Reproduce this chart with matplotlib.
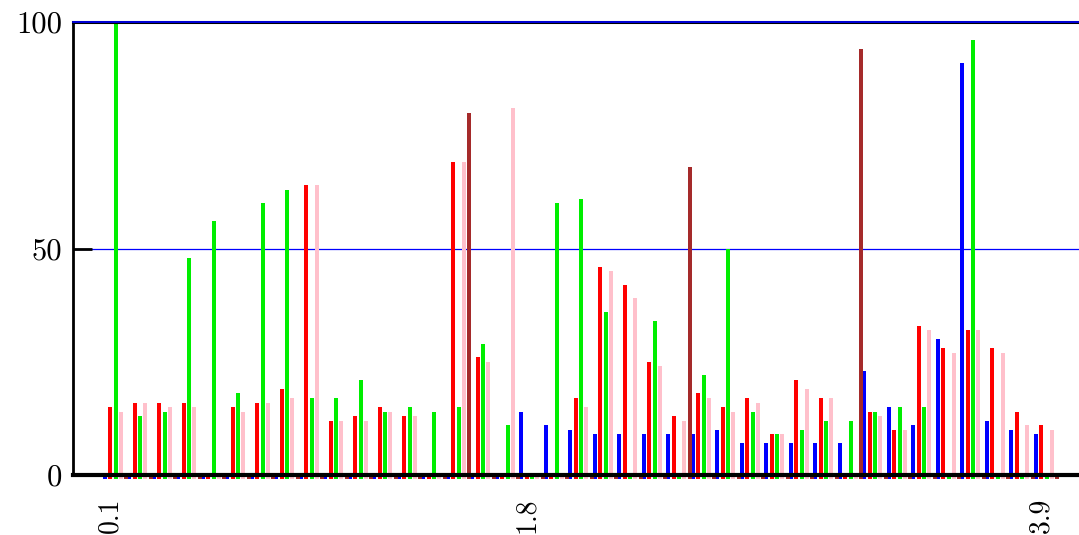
import numpy as np
import matplotlib
matplotlib.use("Agg")
import matplotlib.pyplot as plt

# x categories (0.1 ... 3.9)
x_vals = np.round(np.arange(1, 40) * 0.1, 1)
tick_labels = ["0.1", "1.8", "3.9"]

blue = [0, 0, 0, 0, 0, 0, 0, 0, 0, 0, 0, 0, 0, 0, 0, 0, 0,
        14, 11, 10, 9, 9, 9, 9, 9, 10, 7, 7, 7, 7, 7, 23, 15, 11, 30, 91, 12, 10, 9]
red = [15, 16, 16, 16, 0, 15, 16, 19, 64, 12, 13, 15, 13, 0, 69, 26, 0,
       0, 0, 17, 46, 42, 25, 13, 18, 15, 17, 9, 21, 17, 0, 14, 10, 33, 28, 32, 28, 14, 11]
green = [100, 13, 14, 48, 56, 18, 60, 63, 17, 17, 21, 14, 15, 14, 15, 29, 11,
         0, 60, 61, 36, 0, 34, 0, 22, 50, 14, 9, 10, 12, 12, 14, 15, 15, 0, 96, 0, 0, 0]
pink = [14, 16, 15, 15, 0, 14, 16, 17, 64, 12, 12, 14, 13, 0, 69, 25, 81,
        0, 0, 15, 45, 39, 24, 12, 17, 14, 16, 9, 19, 17, 0, 13, 10, 32, 27, 32, 27, 11, 10]
brown = [0, 0, 0, 0, 0, 0, 0, 0, 0, 0, 0, 0, 0, 0, 80, 0, 0,
         0, 0, 0, 0, 0, 0, 68, 0, 0, 0, 0, 0, 0, 94, 0, 0, 0, 0, 0, 0, 0, 0]

series = [blue, red, green, pink, brown]
colors = ["#0000ff", "#ff0000", "#00ee00", "#ffc0cb", "#a52a2a"]
offsets = [-0.0127, 0.009, 0.0306, 0.0522, 0.0739]
bar_w = 0.0165
base = -0.8  # bars start a hair below the axis

fig = plt.figure(figsize=(10.79, 5.35), dpi=100)
ax = fig.add_axes([0.0677, 0.1121, 0.9323, 0.8468])

for vals, c, off in zip(series, colors, offsets):
    v = np.array(vals, dtype=float)
    ax.bar(x_vals + off, v - base, bottom=base, width=bar_w, color=c,
           linewidth=0, clip_on=False, zorder=2)

ax.set_xlim(-0.043, 4.063)
ax.set_ylim(0, 100)

# grid lines
ax.axhline(50, color="#0000ff", lw=0.9, zorder=1)
ax.axhline(100, color="#0000ff", lw=1.2, zorder=5, clip_on=False)

ax.spines["right"].set_visible(False)
ax.spines["left"].set_linewidth(2)
ax.spines["bottom"].set_linewidth(3)
ax.spines["top"].set_linewidth(2.2)
ax.spines["bottom"].set_zorder(4)

ax.set_yticks([0, 50, 100])
ax.set_yticklabels(["0", "50", "100"], fontfamily="cmr10", fontsize=22)
ax.tick_params(axis="y", direction="in", length=14, width=2, pad=8)

ax.set_xticks([0.11, 1.81, 3.91])
ax.set_xticklabels(tick_labels, rotation=90, fontfamily="cmr10", fontsize=20)
ax.tick_params(axis="x", length=0, pad=16)

fig.savefig("out.png", dpi=100)
